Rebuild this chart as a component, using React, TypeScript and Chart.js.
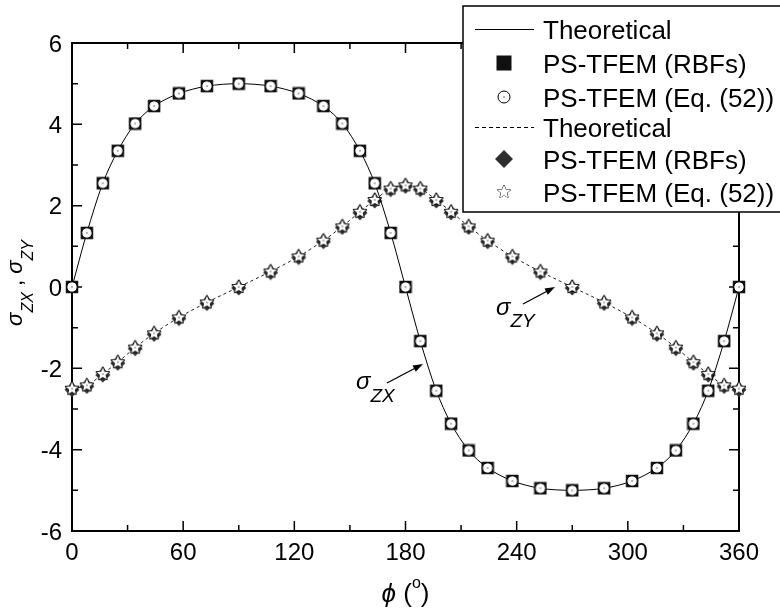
import React, { useEffect, useRef } from 'react';
import { Chart, registerables } from 'chart.js';

Chart.register(...registerables);

// ---- data ----
const phiDeg = [0, 8, 16.6, 24.7, 34.1, 44.3, 57.7, 72.8, 90, 107.2, 122.3, 135.7, 145.9, 155.4, 163.4, 172, 180,
  188, 196.6, 204.6, 214.1, 224.3, 237.7, 252.8, 270, 287.2, 302.3, 315.7, 325.9, 335.4, 343.4, 352, 360];
const sigmaZX = [0, 1.33, 2.55, 3.35, 4.02, 4.45, 4.76, 4.94, 5.0, 4.94, 4.76, 4.45, 4.02, 3.35, 2.55, 1.33, 0,
  -1.33, -2.55, -3.36, -4.02, -4.45, -4.77, -4.95, -5.0, -4.95, -4.77, -4.45, -4.02, -3.36, -2.55, -1.33, 0];
const sigmaZY = [-2.5, -2.42, -2.14, -1.85, -1.49, -1.14, -0.75, -0.38, 0, 0.38, 0.75, 1.14, 1.49, 1.85, 2.14, 2.42, 2.5,
  2.42, 2.14, 1.85, 1.49, 1.14, 0.75, 0.38, 0, -0.38, -0.75, -1.14, -1.49, -1.85, -2.14, -2.42, -2.5];
const xTicks = [0, 60, 120, 180, 240, 300, 360];
const yTicks = [-6, -4, -2, 0, 2, 4, 6];
const legendLabels = ['Theoretical', 'PS-TFEM (RBFs)', 'PS-TFEM (Eq. (52))', 'Theoretical', 'PS-TFEM (RBFs)', 'PS-TFEM (Eq. (52))'];

const FONT = '"Liberation Sans", Arial, Helvetica, sans-serif';

// ---- marker drawing helpers ----
function drawSquare(g: CanvasRenderingContext2D, cx: number, cy: number, side: number) {
  g.fillStyle = '#111';
  g.fillRect(cx - side / 2, cy - side / 2, side, side);
}
function drawCircleDot(g: CanvasRenderingContext2D, cx: number, cy: number, r: number) {
  g.beginPath();
  g.arc(cx, cy, r, 0, Math.PI * 2);
  g.fillStyle = '#fff';
  g.fill();
  g.lineWidth = 1;
  g.strokeStyle = '#000';
  g.stroke();
  g.beginPath();
  g.arc(cx, cy, 0.7, 0, Math.PI * 2);
  g.fillStyle = '#333';
  g.fill();
}
function drawDiamond(g: CanvasRenderingContext2D, cx: number, cy: number, r: number) {
  g.beginPath();
  g.moveTo(cx, cy - r);
  g.lineTo(cx + r, cy);
  g.lineTo(cx, cy + r);
  g.lineTo(cx - r, cy);
  g.closePath();
  g.fillStyle = '#2e2e2e';
  g.fill();
}
function drawStar(g: CanvasRenderingContext2D, cx: number, cy: number, R: number, dot: boolean, lw: number) {
  const r = R * 0.45;
  g.beginPath();
  for (let i = 0; i < 10; i++) {
    const a = -Math.PI / 2 + (i * Math.PI) / 5;
    const rr = i % 2 === 0 ? R : r;
    const px = cx + rr * Math.cos(a);
    const py = cy + rr * Math.sin(a);
    if (i === 0) g.moveTo(px, py); else g.lineTo(px, py);
  }
  g.closePath();
  g.lineJoin = 'round';
  g.lineWidth = lw;
  g.strokeStyle = '#111';
  g.stroke();
  g.fillStyle = '#fff';
  g.fill();
  if (dot) {
    g.beginPath();
    g.arc(cx, cy, 0.7, 0, Math.PI * 2);
    g.fillStyle = '#333';
    g.fill();
  }
}
function makeMarker(size: number, draw: (g: CanvasRenderingContext2D, c: number) => void) {
  const c = document.createElement('canvas');
  c.width = size;
  c.height = size;
  const g = c.getContext('2d')!;
  draw(g, size / 2);
  return c;
}

function drawRich(ctx: CanvasRenderingContext2D, parts: { t: string; f: string; dy: number }[], x: number, y: number, align: 'left' | 'center') {
  let total = 0;
  for (const p of parts) { ctx.font = p.f; total += ctx.measureText(p.t).width; }
  let cx = align === 'center' ? x - total / 2 : x;
  ctx.textAlign = 'left';
  ctx.textBaseline = 'alphabetic';
  for (const p of parts) {
    ctx.font = p.f;
    ctx.fillText(p.t, cx, y + p.dy);
    cx += ctx.measureText(p.t).width;
  }
}
function drawArrow(ctx: CanvasRenderingContext2D, x1: number, y1: number, x2: number, y2: number) {
  const a = Math.atan2(y2 - y1, x2 - x1);
  const L = 10, W = 3.5;
  ctx.beginPath();
  ctx.moveTo(x1, y1);
  ctx.lineTo(x2 - (L - 2) * Math.cos(a), y2 - (L - 2) * Math.sin(a));
  ctx.lineWidth = 1.3;
  ctx.strokeStyle = '#000';
  ctx.stroke();
  ctx.beginPath();
  ctx.moveTo(x2, y2);
  ctx.lineTo(x2 - L * Math.cos(a) + W * Math.sin(a), y2 - L * Math.sin(a) - W * Math.cos(a));
  ctx.lineTo(x2 - L * Math.cos(a) - W * Math.sin(a), y2 - L * Math.sin(a) + W * Math.cos(a));
  ctx.closePath();
  ctx.fillStyle = '#000';
  ctx.fill();
}

const overlay = {
  id: 'overlay',
  beforeDatasetsDraw(chart: any) {
    const { ctx, chartArea: ca, scales } = chart;
    const xs = scales.x, ys = scales.y;
    ctx.save();
    // ticks (inward, all four sides)
    ctx.strokeStyle = '#000';
    ctx.lineWidth = 1.5;
    ctx.beginPath();
    for (let i = 0; i < xTicks.length; i++) {
      const vals = [xTicks[i]];
      if (i < xTicks.length - 1) vals.push((xTicks[i] + xTicks[i + 1]) / 2);
      vals.forEach((v, k) => {
        const px = xs.getPixelForValue(v);
        const len = k === 0 ? 10 : 6;
        ctx.moveTo(px, ca.bottom); ctx.lineTo(px, ca.bottom - len);
        ctx.moveTo(px, ca.top); ctx.lineTo(px, ca.top + len);
      });
    }
    for (let i = 0; i < yTicks.length; i++) {
      const vals = [yTicks[i]];
      if (i < yTicks.length - 1) vals.push((yTicks[i] + yTicks[i + 1]) / 2);
      vals.forEach((v, k) => {
        const py = ys.getPixelForValue(v);
        const len = k === 0 ? 10 : 6;
        ctx.moveTo(ca.left, py); ctx.lineTo(ca.left + len, py);
        ctx.moveTo(ca.right, py); ctx.lineTo(ca.right - len, py);
      });
    }
    ctx.stroke();
    // frame
    ctx.lineWidth = 2;
    ctx.strokeRect(ca.left, ca.top, ca.right - ca.left, ca.bottom - ca.top);
    ctx.restore();
  },
  afterDraw(chart: any) {
    const { ctx, chartArea: ca, scales } = chart;
    const xs = scales.x, ys = scales.y;
    ctx.save();
    // tick labels
    ctx.fillStyle = '#000';
    ctx.font = `24px ${FONT}`;
    ctx.textBaseline = 'alphabetic';
    ctx.textAlign = 'right';
    yTicks.forEach((v) => ctx.fillText(String(v), ca.left - 10, ys.getPixelForValue(v) + 8.5));
    ctx.textAlign = 'center';
    xTicks.forEach((v) => ctx.fillText(String(v), xs.getPixelForValue(v), ca.bottom + 29));

    // x title
    const xt = [
      { t: 'ϕ', f: `italic 26px ${FONT}`, dy: 0 },
      { t: ' (', f: `26px ${FONT}`, dy: 0 },
      { t: 'o', f: `16px ${FONT}`, dy: -14 },
      { t: ')', f: `26px ${FONT}`, dy: 0 },
    ];
    drawRich(ctx, xt, (ca.left + ca.right) / 2, 602, 'center');

    // y title
    ctx.save();
    ctx.translate(22, 283);
    ctx.rotate(-Math.PI / 2);
    drawRich(ctx, [
      { t: 'σ', f: `italic 22px ${FONT}`, dy: 0 },
      { t: 'ZX', f: `italic 16px ${FONT}`, dy: 11 },
      { t: ' , ', f: `22px ${FONT}`, dy: 0 },
      { t: 'σ', f: `italic 22px ${FONT}`, dy: 0 },
      { t: 'ZY', f: `italic 16px ${FONT}`, dy: 11 },
    ], 0, 0, 'center');
    ctx.restore();

    // annotations
    drawRich(ctx, [
      { t: 'σ', f: `italic 24px ${FONT}`, dy: 0 },
      { t: 'ZX', f: `italic 19px ${FONT}`, dy: 13 },
    ], 356, 389, 'left');
    drawArrow(ctx, 387, 383, 423, 364);
    drawRich(ctx, [
      { t: 'σ', f: `italic 24px ${FONT}`, dy: 0 },
      { t: 'ZY', f: `italic 19px ${FONT}`, dy: 12 },
    ], 496, 315, 'left');
    drawArrow(ctx, 523, 304, 555, 287);

    // legend
    const lx = 463, ly = 6, lh = 206;
    ctx.fillStyle = '#fff';
    ctx.fillRect(lx, ly, 400, lh);
    ctx.lineWidth = 1.5;
    ctx.strokeStyle = '#000';
    ctx.strokeRect(lx, ly, 400, lh);
    const rows = [29, 63, 97, 127, 159, 192];
    const mx = 504;
    rows.forEach((cy, i) => {
      ctx.save();
      if (i === 0 || i === 3) {
        ctx.beginPath();
        ctx.lineWidth = 1;
        ctx.strokeStyle = '#000';
        if (i === 3) ctx.setLineDash([4, 3]);
        ctx.moveTo(475, cy + 0.5);
        ctx.lineTo(534, cy + 0.5);
        ctx.stroke();
      } else if (i === 1) drawSquare(ctx, mx, cy, 15);
      else if (i === 2) drawCircleDot(ctx, mx, cy, 6);
      else if (i === 4) drawDiamond(ctx, mx, cy, 9);
      else if (i === 5) drawStar(ctx, mx, cy, 7, false, 1);
      ctx.restore();
      ctx.fillStyle = '#000';
      ctx.font = `26px ${FONT}`;
      ctx.textAlign = 'left';
      ctx.textBaseline = 'alphabetic';
      ctx.fillText(legendLabels[i], 543, cy + 9.5);
    });
    ctx.restore();
  },
};

export default function App() {
  const ref = useRef<HTMLCanvasElement | null>(null);
  useEffect(() => {
    const canvas = ref.current!;
    const sq = makeMarker(14, (g, c) => drawSquare(g, c, c, 12.5));
    const ci = makeMarker(14, (g, c) => drawCircleDot(g, c, c, 5.2));
    const di = makeMarker(18, (g, c) => drawDiamond(g, c, c + 1, 7.5));
    const st = makeMarker(18, (g, c) => drawStar(g, c, c, 6.5, true, 2));
    const zx = phiDeg.map((p, i) => ({ x: p, y: sigmaZX[i] }));
    const zy = phiDeg.map((p, i) => ({ x: p, y: sigmaZY[i] }));
    const base = { clip: false as any, showLine: false, pointRadius: 6, pointHoverRadius: 6, borderWidth: 0 };
    // Chart.js draws dataset 0 last (on top), so the topmost marks come first
    const chart = new Chart(canvas, {
      type: 'line',
      data: {
        datasets: [
          { ...base, label: 'Eq52 ZX', data: zx, pointStyle: ci as any },
          { ...base, label: 'RBF ZX', data: zx, pointStyle: sq as any },
          { label: 'Theoretical ZX', data: zx, borderColor: '#000', borderWidth: 1, pointRadius: 0, tension: 0.3, clip: false as any },
          { ...base, label: 'Eq52 ZY', data: zy, pointStyle: st as any },
          { ...base, label: 'RBF ZY', data: zy, pointStyle: di as any },
          { label: 'Theoretical ZY', data: zy, borderColor: '#222', borderWidth: 1, borderDash: [3, 3], pointRadius: 0, tension: 0.3, clip: false as any },
        ],
      },
      options: {
        responsive: false,
        animation: false,
        devicePixelRatio: 1,
        layout: { padding: { left: 72, top: 43, right: 41, bottom: 80 } },
        plugins: { legend: { display: false }, tooltip: { enabled: false } },
        events: [],
        scales: {
          x: { type: 'linear', min: 0, max: 360, display: false },
          y: { type: 'linear', min: -6, max: 6, display: false },
        },
      },
      plugins: [overlay],
    });
    return () => chart.destroy();
  }, []);
  return (
    <div style={{ position: 'absolute', left: 0, top: 0, width: 780, height: 611, background: '#fff' }}>
      <canvas ref={ref} width={780} height={611} style={{ display: 'block' }} />
    </div>
  );
}
